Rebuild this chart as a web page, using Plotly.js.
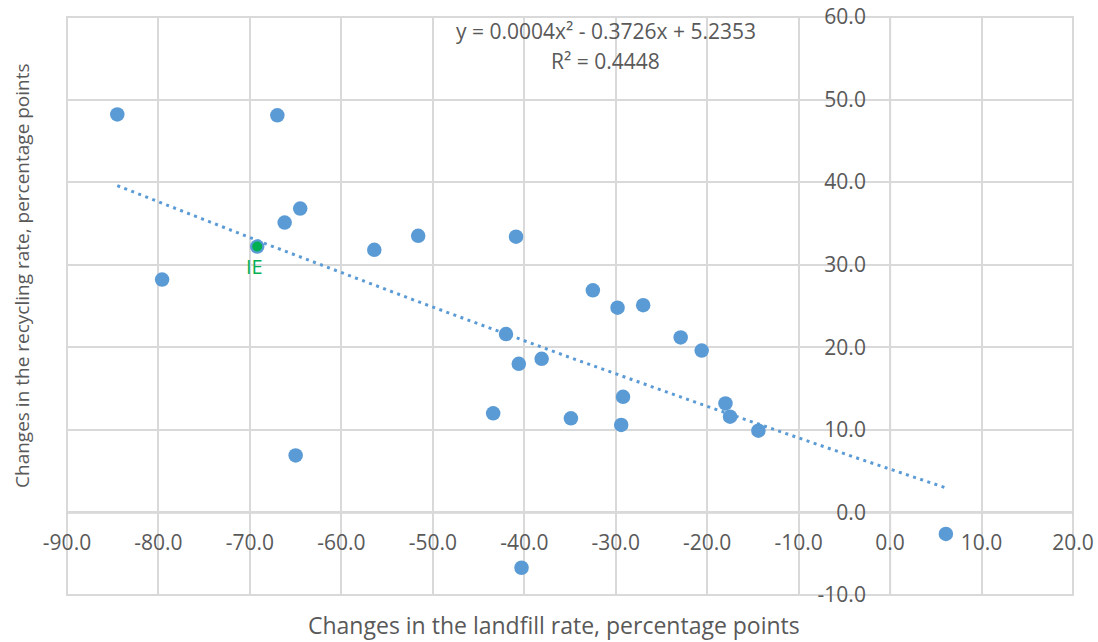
<!DOCTYPE html>
<html>
<head>
<meta charset="utf-8">
<script src="https://cdn.plot.ly/plotly-3.0.1.min.js"></script>
<style>
  html, body { margin: 0; padding: 0; background: #ffffff; }
  #chart { width: 1098px; height: 642px; }
</style>
</head>
<body>
<div id="chart"></div>
<script>
// ---- data ----
const landfillChange = [-84.5, -67.0, -79.6, -66.2, -64.5, -69.2, -56.4, -51.6, -40.9, -32.5, -29.8, -27.0, -42.0, -40.6, -38.1, -43.4, -34.9, -29.2, -29.4, -22.9, -20.6, -18.0, -17.5, -14.4, -40.3, -65.0, 6.1];
const recyclingChange = [48.2, 48.1, 28.2, 35.1, 36.8, 32.2, 31.8, 33.5, 33.4, 26.9, 24.8, 25.1, 21.6, 18.0, 18.6, 12.0, 11.4, 14.0, 10.6, 21.2, 19.6, 13.2, 11.6, 9.9, -6.7, 6.9, -2.6];

const highlightLabel = ["IE"];
const highlightX = [-69.2];
const highlightY = [32.2];

// polynomial (order 2) trendline coefficients as shown on the chart
const trendA = 0.0004, trendB = -0.3726, trendC = 5.2353;
const trendEquation = "y = 0.0004x² - 0.3726x + 5.2353";
const trendR2 = "R² = 0.4448";

const xTickVals = [-90, -80, -70, -60, -50, -40, -30, -20, -10, 0, 10, 20];
const xTickText = ["-90.0", "-80.0", "-70.0", "-60.0", "-50.0", "-40.0", "-30.0", "-20.0", "-10.0", "0.0", "10.0", "20.0"];
const yTickVals = [-10, 0, 10, 20, 30, 40, 50, 60];
const yTickText = ["-10.0", "0.0", "10.0", "20.0", "30.0", "40.0", "50.0", "60.0"];

const xTitle = "Changes in the landfill rate, percentage points";
const yTitle = "Changes in the recycling rate, percentage points";

// ---- trendline built from the fitted equation over the data span ----
const xMin = Math.min(...landfillChange), xMax = Math.max(...landfillChange);
const trendX = [], trendY = [];
const steps = 100;
for (let i = 0; i <= steps; i++) {
  const x = xMin + (xMax - xMin) * i / steps;
  trendX.push(x);
  trendY.push(trendA * x * x + trendB * x + trendC);
}

const textColor = "#595959";
const fontFam = "'Open Sans', 'Noto Sans', sans-serif";
const blue = "#5B9BD5";
const green = "#00B050";

const traces = [
  {
    x: trendX, y: trendY, type: "scatter", mode: "lines",
    line: { color: blue, width: 3, dash: "3px,4.5px" },
    hoverinfo: "skip"
  },
  {
    x: landfillChange, y: recyclingChange, type: "scatter", mode: "markers",
    marker: { color: blue, size: 14.5 }
  },
  {
    x: highlightX, y: highlightY, type: "scatter", mode: "markers",
    marker: { color: green, size: 10 }
  }
];

const layout = {
  width: 1098, height: 642,
  margin: { l: 67, r: 25, t: 17, b: 47, pad: 0 },
  paper_bgcolor: "#ffffff", plot_bgcolor: "#ffffff",
  showlegend: false,
  hovermode: false,
  font: { family: fontFam, color: textColor, size: 21 },
  xaxis: {
    range: [-90, 20],
    tickvals: xTickVals, ticktext: xTickText,
    showgrid: true, gridcolor: "#D9D9D9", gridwidth: 2,
    zeroline: false,
    showline: false,
    anchor: "free", position: 10 / 70,
    ticks: "outside", ticklen: 11, tickcolor: "rgba(0,0,0,0)",
    tickfont: { family: fontFam, color: textColor, size: 21 },
    fixedrange: true
  },
  yaxis: {
    range: [-10, 60],
    tickvals: yTickVals, ticktext: yTickText,
    showgrid: true, gridcolor: "#D9D9D9", gridwidth: 2,
    zeroline: false,
    showline: false,
    anchor: "free", position: 90 / 110,
    ticks: "outside", ticklen: 20, tickcolor: "rgba(0,0,0,0)",
    tickfont: { family: fontFam, color: textColor, size: 21 },
    fixedrange: true
  },
  shapes: [
    { type: "rect", xref: "paper", yref: "paper", x0: 0, x1: 1, y0: 0, y1: 1,
      line: { color: "#D9D9D9", width: 2 }, layer: "below" },
    { type: "line", xref: "x", yref: "paper", x0: 0, x1: 0, y0: 0, y1: 1,
      line: { color: "#BFBFBF", width: 2 }, layer: "below" },
    { type: "line", xref: "paper", yref: "y", x0: 0, x1: 1, y0: 0, y1: 0,
      line: { color: "#BFBFBF", width: 2 }, layer: "below" }
  ],
  annotations: [
    { text: trendEquation, xref: "paper", yref: "paper", x: 0.5355, y: 0.975,
      xanchor: "center", yanchor: "middle", showarrow: false,
      font: { family: fontFam, color: textColor, size: 21 } },
    { text: trendR2, xref: "paper", yref: "paper", x: 0.5355, y: 0.924,
      xanchor: "center", yanchor: "middle", showarrow: false,
      font: { family: fontFam, color: textColor, size: 21 } },
    { text: highlightLabel[0], xref: "x", yref: "y", x: highlightX[0], y: highlightY[0],
      xanchor: "center", yanchor: "middle", xshift: -3, yshift: -20, showarrow: false,
      font: { family: fontFam, color: green, size: 20 } },
    { text: xTitle, xref: "paper", yref: "paper", x: 0.4838, y: -0.052,
      xanchor: "center", yanchor: "middle", showarrow: false,
      font: { family: fontFam, color: textColor, size: 23 } },
    { text: yTitle, xref: "paper", yref: "paper", x: -0.0447, y: 0.552,
      xanchor: "center", yanchor: "middle", showarrow: false, textangle: -90,
      font: { family: fontFam, color: textColor, size: 19 } }
  ]
};

Plotly.newPlot("chart", traces, layout, { displayModeBar: false, staticPlot: true });
</script>
</body>
</html>
